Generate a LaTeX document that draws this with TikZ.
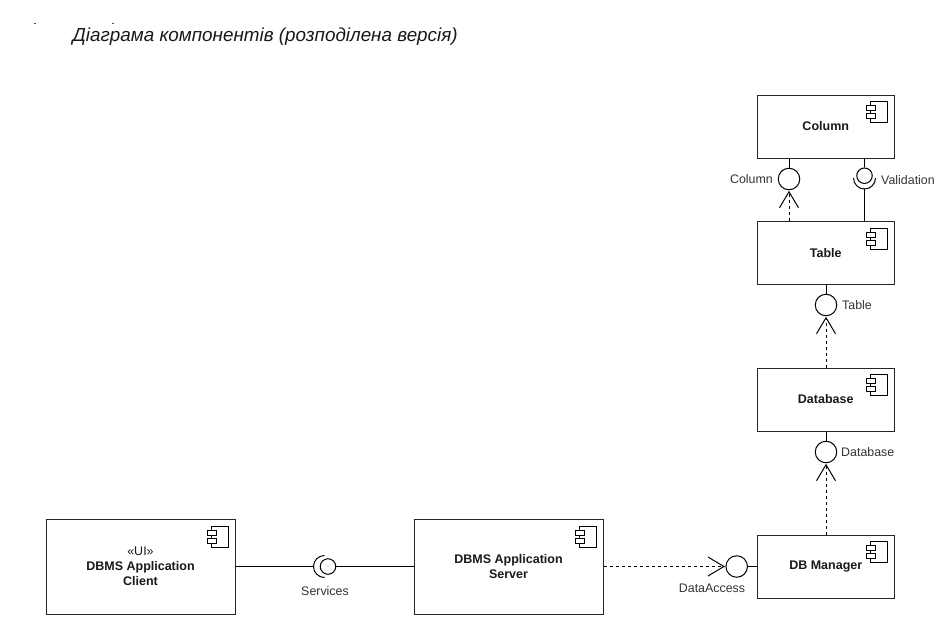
\documentclass[tikz,border=0pt]{standalone}
\usepackage{fontspec}
\setmainfont{Liberation Sans}
\usetikzlibrary{arrows.meta}
\tikzset{
  x=1pt,y=-1pt,
  comp/.style={draw=black!85,line width=1pt,fill=white,inner sep=0pt,align=center,
    font=\fontsize{12.5}{15}\selectfont\bfseries,text=black!90},
  lolly/.style={circle,draw=black,line width=1pt,fill=white,minimum size=21.5pt,inner sep=0pt},
  ball/.style={circle,draw=black,line width=1pt,fill=white,minimum size=15.5pt,inner sep=0pt},
  lab/.style={font=\fontsize{12.4}{14}\selectfont,text=black!80,inner sep=0pt},
  wire/.style={line width=1pt,draw=black},
  dep/.style={line width=1pt,draw=black,dash pattern=on 3pt off 3pt,
    -{Straight Barb[length=16pt,width=19pt,line width=1pt]},shorten >=.5pt},
  socket/.style={line width=1pt,draw=black},
  icon/.pic={
    \draw[line width=.9pt,black] (-17,0) rectangle (0,21);
    \draw[line width=.9pt,black,fill=white] (-21,4) rectangle (-12,9);
    \draw[line width=.9pt,black,fill=white] (-21,12) rectangle (-12,17);
  }
}
\begin{document}
\begin{tikzpicture}
\useasboundingbox (0,0) rectangle (940,624);
\fill[white] (0,0) rectangle (940,624);

\node[anchor=west,inner sep=0pt,font=\fontsize{18.85}{22}\selectfont\itshape,text=black!90] (title) at (72.5,36.5)
  {Діаграма компонентів (розподілена версія)};
\fill[black!70] (33.5,22.6) rectangle (35.5,23.6);
\fill[black!70] (111.5,22.6) rectangle (113.5,23.6);

\node[comp,minimum width=136.5pt,minimum height=63pt] (column) at (825.75,126.5) {\raisebox{-.7pt}{Column}};
\node[comp,minimum width=136.5pt,minimum height=63pt] (table) at (825.75,253) {\raisebox{-.3pt}{Table}};
\node[comp,minimum width=136.5pt,minimum height=63pt] (database) at (825.75,399.5) {\raisebox{-.5pt}{Database}};
\node[comp,minimum width=136.5pt,minimum height=63pt] (manager) at (825.75,566.5) {\raisebox{-.5pt}{DB Manager}};
\node[comp,minimum width=189pt,minimum height=95pt] (client) at (140.5,566.5)
  {{\normalfont «UI»}\\DBMS Application\\Client};
\node[comp,minimum width=189pt,minimum height=95pt] (server) at (508.5,566.5)
  {\raisebox{-.8pt}{DBMS Application}\\\raisebox{-.8pt}{Server}};

\foreach \n/\dx/\dy in {column/-7.5/7,table/-7.5/7,database/-7.5/7,manager/-7.5/7,client/-7/8,server/-7/8}
  \pic at ([xshift=\dx pt,yshift=-\dy pt]\n.north east) {icon};

\node[lolly] (icolumn) at (789,179) {};
\node[ball] (ivalid) at (864.5,175.7) {};
\node[lolly] (itable) at (826,305) {};
\node[lolly] (idatabase) at (826,452) {};
\node[lolly] (iaccess) at (736.7,566.5) {};
\node[ball] (iservices) at (328,566.5) {};

\coordinate (validsock) at (864.5,189);
\coordinate (servsock) at (313.5,566.5);

\draw[socket] (853.5,178) arc[start angle=180,end angle=360,radius=11pt];
\draw[socket] (324.5,555.5) arc[start angle=90,end angle=270,radius=11pt];

\draw[wire] (column.south -| icolumn) -- (icolumn);
\draw[wire] (column.south -| ivalid) -- (ivalid);
\draw[wire] (validsock) -- (table.north -| validsock);
\draw[wire] (table.south -| itable) -- (itable);
\draw[wire] (database.south -| idatabase) -- (idatabase);
\draw[wire] (manager.west) -- (iaccess);
\draw[wire] (client.east) -- (servsock);
\draw[wire] (server.west) -- (iservices);

\draw[dep] (table.north -| icolumn) -- (icolumn.south);
\draw[dep] (database.north -| itable) -- (itable.south);
\draw[dep] (manager.north -| idatabase) -- (idatabase.south);
\draw[dep] (server.east) -- (iaccess.west);

\node[lab,anchor=east] (lcolumn) at (773,179) {Column};
\node[lab,anchor=west] (lvalid) at (881,180) {Validation};
\node[lab,anchor=west] (ltable) at (842,305) {Table};
\node[lab,anchor=west] (ldatabase) at (841,452) {Database};
\node[lab] (laccess) at (712,588) {DataAccess};
\node[lab] (lservices) at (325,591) {Services};
\end{tikzpicture}
\end{document}
